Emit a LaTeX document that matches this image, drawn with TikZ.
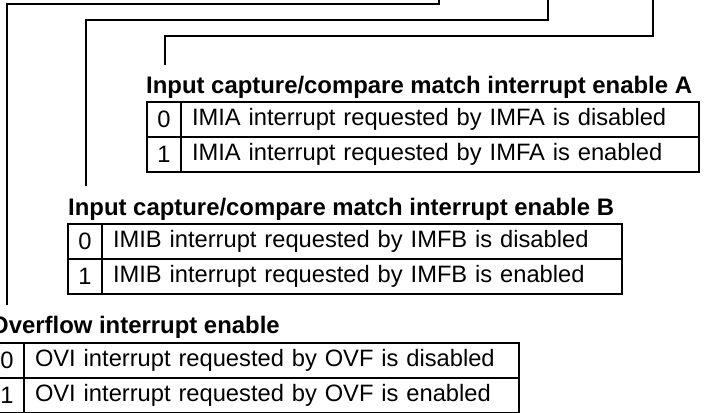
\documentclass[tikz,border=0pt]{standalone}
\usepackage{fontspec}
\setmainfont{Liberation Sans}
\usetikzlibrary{positioning}

\tikzset{
  bitcell/.style={draw, line width=1.1pt, outer sep=0pt, inner sep=0pt,
    minimum width=34pt, minimum height=35pt},
  desccell/.style={draw, line width=1.1pt, outer sep=0pt, inner xsep=0pt, inner ysep=0pt,
    minimum height=35pt, text width=#1, align=left, execute at begin node=\hspace*{11pt}},
  ttl/.style={anchor=base west, inner sep=0pt, font=\bfseries\fontsize{23.9}{28}\selectfont},
  lead/.style={line width=1.1pt}
}

\begin{document}
\begin{tikzpicture}[x=1pt, y=-1pt, every node/.append style={font=\fontsize{23.7}{28}\selectfont}]

\useasboundingbox (0,0) rectangle (706,412);
\clip (0,0) rectangle (706,412);

% --- Compare match interrupt enable A ---
\node[ttl] (ttlA) at (146,93) {Input capture/compare match interrupt enable A};
\node[bitcell] (a0) at (164,119.5) {0};
\node[desccell=518pt, right=0pt of a0] (a0t) {IMIA interrupt requested by IMFA is disabled};
\node[bitcell, below=0pt of a0] (a1) {1};
\node[desccell=518pt, right=0pt of a1] (a1t) {IMIA interrupt requested by IMFA is enabled};

% --- Compare match interrupt enable B ---
\node[ttl] (ttlB) at (68,215) {Input capture/compare match interrupt enable B};
\node[bitcell] (b0) at (85,241.5) {0};
\node[desccell=520pt, right=0pt of b0] (b0t) {IMIB interrupt requested by IMFB is disabled};
\node[bitcell, below=0pt of b0] (b1) {1};
\node[desccell=520pt, right=0pt of b1] (b1t) {IMIB interrupt requested by IMFB is enabled};

% --- Overflow interrupt enable ---
\node[ttl] (ttlC) at (-10,333) {Overflow interrupt enable};
\node[bitcell] (c0) at (7,360.5) {0};
\node[desccell=495pt, right=0pt of c0] (c0t) {OVI interrupt requested by OVF is disabled};
\node[bitcell, below=0pt of c0] (c1) {1};
\node[desccell=495pt, right=0pt of c1] (c1t) {OVI interrupt requested by OVF is enabled};

% --- Leader lines up to the register bits ---
\coordinate (bitA) at (653,-10);
\coordinate (bitB) at (548,-10);
\coordinate (bitC) at (439,-10);
\coordinate (endA) at (165,65);
\coordinate (endB) at (86,186);
\coordinate (endC) at (7,305);

\draw[lead] (endA) -- ++(0,-29) -| (bitA);
\draw[lead] (endB) -- ++(0,-166) -| (bitB);
\draw[lead] (endC) -- ++(0,-301) -| (bitC);

\end{tikzpicture}
\end{document}
